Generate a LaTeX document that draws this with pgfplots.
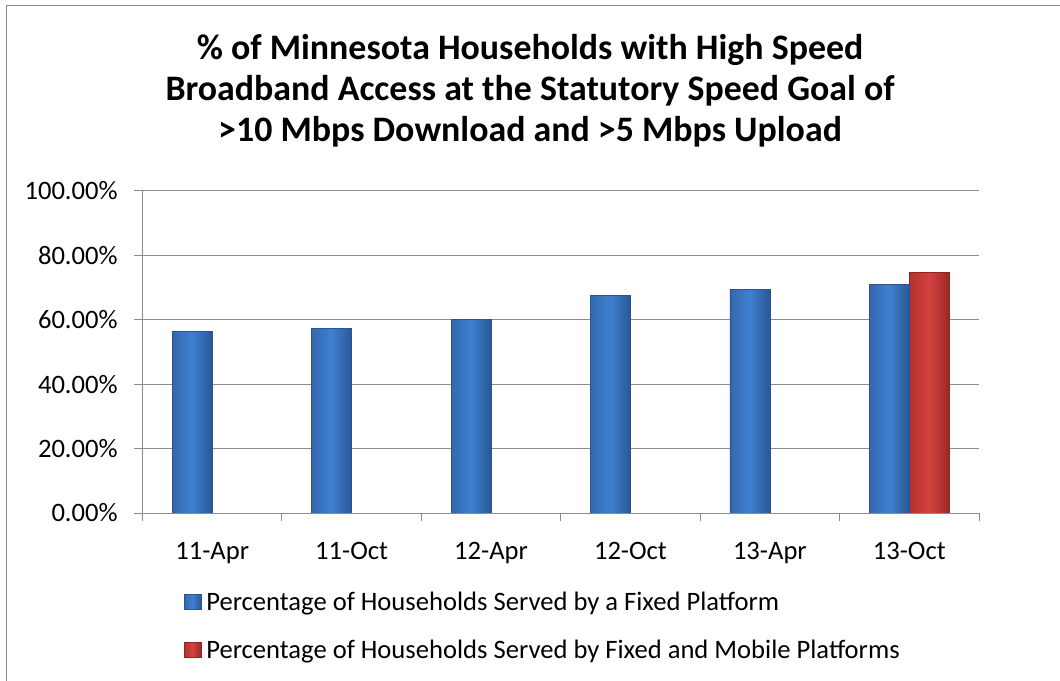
\documentclass[border=0pt]{standalone}
\usepackage{pgfplots}
\pgfplotsset{compat=1.18}
\usepackage{fontspec}
\setmainfont{Carlito}
\definecolor{gridc}{HTML}{8C8C8C}
\definecolor{bedgeL}{HTML}{3468AE}
\definecolor{bedgeR}{HTML}{2A5896}
\definecolor{bmid}{HTML}{3E80D0}
\definecolor{bline}{HTML}{2A5490}
\definecolor{redgeL}{HTML}{B2322F}
\definecolor{redgeR}{HTML}{962826}
\definecolor{rmid}{HTML}{D4433F}
\definecolor{rline}{HTML}{8E2523}
\pgfplotsset{
  bluebar/.style={draw=bline, line width=0.6bp, left color=bedgeL, right color=bedgeR, middle color=bmid, bar shift=-20bp},
  redbar/.style={draw=rline, line width=0.6bp, left color=redgeL, right color=redgeR, middle color=rmid, bar shift=20bp},
}
\begin{document}
\begin{tikzpicture}
\useasboundingbox (0bp,0bp) rectangle (1060bp,681bp);
\draw[gridc, line width=1.6bp] (6.5bp,0bp) -- (6.5bp,675.5bp) -- (1060bp,675.5bp);
\node[anchor=base, font=\fontsize{36}{40}\selectfont\bfseries] at (530bp,621bp) {\% of Minnesota Households with High Speed};
\node[anchor=base, font=\fontsize{36}{40}\selectfont\bfseries] at (530bp,580bp) {Broadband Access at the Statutory Speed Goal of};
\node[anchor=base, font=\fontsize{36}{40}\selectfont\bfseries] at (530bp,539bp) {>10 Mbps Download and >5 Mbps Upload};
\begin{axis}[
  at={(142.5bp,168bp)}, anchor=south west, scale only axis,
  width=836.5bp, height=322bp,
  ybar=0pt, bar width=40bp,
  xmin=-0.5, xmax=5.5, ymin=0, ymax=100,
  xtick={0,1,2,3,4,5},
  xticklabels={11-Apr,11-Oct,12-Apr,12-Oct,13-Apr,13-Oct},
  minor xtick={-0.5,0.5,1.5,2.5,3.5,4.5,5.5},
  major x tick style={draw=none},
  ytick={0,20,40,60,80,100},
  yticklabels={0.00\%,20.00\%,40.00\%,60.00\%,80.00\%,100.00\%},
  ymajorgrids, grid style={gridc, line width=1bp},
  axis x line*=bottom, axis y line*=left,
  axis line style={gridc, line width=1bp, -},
  tick style={gridc, line width=1bp},
  tick align=outside, major tick length=8bp, minor tick length=8bp,
  ticklabel style={font=\fontsize{26.7}{32}\selectfont, text=black},
  xticklabel style={yshift=-18bp},
  yticklabel style={xshift=-13.3bp},
  legend cell align=left,
  legend style={draw=none, fill=none, at={(0,0)}, anchor=north west,
    xshift=41bp, yshift=-77bp, font=\fontsize{26.7}{32}\selectfont,
    row sep=24bp, inner sep=0pt,
    /tikz/every odd column/.style={column sep=3bp}},
  legend image code/.code={\draw[#1] (0bp,-7.5bp) rectangle (17bp,7.5bp);},
]
\addplot[bluebar] coordinates {(0,56.4)};
\addlegendentry{Percentage of Households Served by a Fixed Platform}
\addplot[redbar] coordinates {(5,74.7)};
\addlegendentry{Percentage of Households Served by Fixed and Mobile Platforms}
\addplot[bluebar, forget plot] coordinates {(1,57.3)};
\addplot[bluebar, forget plot] coordinates {(2,60.0)};
\addplot[bluebar, forget plot] coordinates {(3,67.5)};
\addplot[bluebar, forget plot] coordinates {(4,69.4)};
\addplot[bluebar, forget plot] coordinates {(5,71.0)};
\end{axis}
\end{tikzpicture}
\end{document}
